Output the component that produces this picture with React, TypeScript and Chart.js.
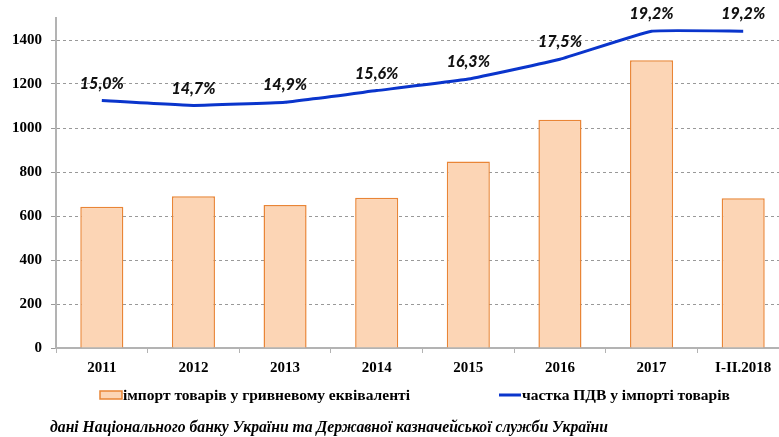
import React, { useEffect, useRef } from "react";
import { Chart, registerables } from "chart.js";

Chart.register(...registerables);

const categories = ["2011", "2012", "2013", "2014", "2015", "2016", "2017", "I-II.2018"];
const importValues = [642, 690, 650, 683, 848, 1037, 1308, 681];
const vatShare = [15.0, 14.7, 14.9, 15.6, 16.3, 17.5, 19.2, 19.2];
const yTicks = [0, 200, 400, 600, 800, 1000, 1200, 1400];
const legendBar = "імпорт товарів у гривневому еквіваленті";
const legendLine = "частка ПДВ у імпорті товарів";
const footnote = "дані Національного банку України та Державної казначейської служби України";

const BAR_FILL = "#FCD5B5";
const BAR_BORDER = "#E98536";
const LINE_COLOR = "#0A35CC";
const SERIF = "'Liberation Serif', 'Times New Roman', serif";

const labelPlugin = {
  id: "pctLabels",
  afterDatasetsDraw(chart: any) {
    const meta = chart.getDatasetMeta(1);
    const ctx = chart.ctx;
    ctx.save();
    ctx.font = "italic 900 16px Lato, 'Open Sans', sans-serif";
    ctx.fillStyle = "#111";
    ctx.textAlign = "center";
    ctx.textBaseline = "middle";
    meta.data.forEach((pt: any, i: number) => {
      const txt = vatShare[i].toFixed(1).replace(".", ",") + "%";
      ctx.fillText(txt, pt.x, pt.y - 17);
    });
    ctx.restore();
  },
};

const legendPlugin = {
  id: "customLegend",
  afterDraw(chart: any) {
    const ctx = chart.ctx;
    ctx.save();
    ctx.fillStyle = BAR_FILL;
    ctx.fillRect(100, 391, 22, 8);
    ctx.strokeStyle = BAR_BORDER;
    ctx.lineWidth = 1.5;
    ctx.strokeRect(100, 391, 22, 8);
    ctx.fillStyle = "#000";
    ctx.font = "bold 15.5px " + SERIF;
    ctx.textAlign = "left";
    ctx.textBaseline = "middle";
    ctx.fillText(legendBar, 123, 396, 288);
    ctx.strokeStyle = LINE_COLOR;
    ctx.lineWidth = 3;
    ctx.beginPath();
    ctx.moveTo(499, 395);
    ctx.lineTo(521, 395);
    ctx.stroke();
    ctx.fillText(legendLine, 522, 396, 210);
    ctx.font = "italic bold 16px " + SERIF;
    ctx.fillText(footnote, 50, 428, 558);
    ctx.restore();
  },
};

export default function App() {
  const ref = useRef<HTMLCanvasElement | null>(null);
  useEffect(() => {
    if (!ref.current) return;
    const chart = new Chart(ref.current, {
      type: "bar",
      data: {
        labels: categories,
        datasets: [
          {
            type: "bar",
            label: legendBar,
            data: importValues,
            backgroundColor: BAR_FILL,
            borderColor: BAR_BORDER,
            borderWidth: 1.5,
            categoryPercentage: 1,
            barPercentage: 0.47,
            yAxisID: "y",
            order: 2,
          },
          {
            type: "line",
            label: legendLine,
            data: vatShare,
            borderColor: LINE_COLOR,
            borderWidth: 3,
            pointRadius: 0,
            tension: 0.1,
            fill: false,
            yAxisID: "y1",
            clip: false as any,
            order: 1,
          },
        ],
      },
      options: {
        responsive: false,
        animation: false,
        layout: { padding: { top: 15, right: 11, left: 0, bottom: 0 } },
        plugins: { legend: { display: false }, tooltip: { enabled: false } },
        scales: {
          x: {
            grid: {
              display: true,
              drawOnChartArea: false,
              drawTicks: true,
              tickLength: 5,
              color: "#b3b3b3",
              offset: true,
            },
            border: { display: true, color: "#b3b3b3", width: 2 },
            ticks: {
              color: "#000",
              font: { family: SERIF, size: 15, weight: "bold" },
              padding: 6,
              maxRotation: 0,
              autoSkip: false,
            },
            afterFit(scale: any) {
              scale.height = 89;
            },
          },
          y: {
            min: 0,
            max: 1500,
            ticks: {
              stepSize: 200,
              color: "#000",
              font: { family: SERIF, size: 15, weight: "bold" },
              padding: 9,
              callback: (v: any) => String(v),
            },
            afterBuildTicks(scale: any) {
              scale.ticks = yTicks.map((v) => ({ value: v }));
            },
            grid: {
              color: "#999999",
              lineWidth: 1,
              tickLength: 5,
            },
            border: { display: true, color: "#b3b3b3", width: 2, dash: [3, 3] as any },
            afterFit(scale: any) {
              scale.width = 56;
            },
          },
          y1: {
            display: false,
            min: 0,
            max: 20,
            grid: { display: false },
          },
        },
      } as any,
      plugins: [labelPlugin, legendPlugin],
    });
    return () => chart.destroy();
  }, []);
  return (
    <div
      style={{
        position: "fixed",
        left: 0,
        top: 0,
        width: 779,
        height: 437,
        overflow: "hidden",
        background: "#fff",
      }}
    >
      <canvas ref={ref} width={800} height={437} style={{ display: "block" }} />
    </div>
  );
}
